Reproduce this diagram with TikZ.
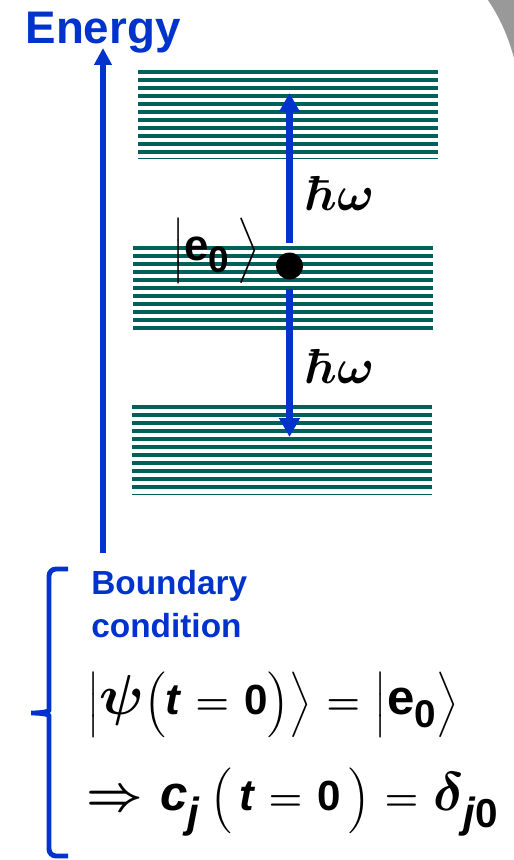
\documentclass[tikz,border=0pt]{standalone}
\usepackage{fix-cm}
\usepackage{amsmath}
\usepackage[no-math]{fontspec}
\setmainfont{Liberation Sans}
\usepackage{tikz}
\usetikzlibrary{arrows.meta, positioning}
\definecolor{myblue}{RGB}{0,51,204}
\definecolor{myteal}{RGB}{0,96,90}
\definecolor{mygray}{RGB}{153,153,153}
\newcommand{\sizedbf}[2]{\text{\fontsize{#1}{#1}\selectfont\bfseries #2}}
\newcommand{\sizedbi}[2]{\text{\fontsize{#1}{#1}\selectfont\bfseries\itshape #2}}
\newcommand{\sizedm}[2]{\text{\fontsize{#1}{#1}\selectfont$#2$}}
\thickmuskip=6mu plus 5mu
\tikzset{
  band/.style={draw=myteal, line width=2.3pt},
  thinband/.style={draw=myteal, line width=0.7pt},
  axisarrow/.style={-{Triangle[width=9.6pt,length=9.6pt]}, line width=3pt, color=myblue},
  photon/.style={-{Triangle[width=11.3pt,length=10.8pt]}, line width=4pt,
    color=myblue, shorten <=5.5pt},
  level/.style={circle, fill=black, minimum size=15.3pt, inner sep=0pt},
  energylabel/.style={text=myblue, font=\bfseries\fontsize{26}{31}\selectfont,
    inner sep=0pt, anchor=base},
  cond/.style={text=myblue, font=\bfseries\fontsize{19}{24}\selectfont,
    inner sep=0pt, anchor=base west, align=left},
  hw/.style={font=\boldmath\fontsize{28}{34}\selectfont, inner sep=0pt, anchor=west},
  formula/.style={font=\boldmath\fontsize{22}{26}\selectfont, inner sep=0pt, anchor=west},
  brace/.style={draw=myblue, line width=2.8pt, rounded corners=4pt}
}
\begin{document}
\begin{tikzpicture}[x=0.02cm, y=-0.02cm]
  \useasboundingbox (0,0) rectangle (514,860);
  \fill[mygray] (488,0) .. controls (500,18) and (508,36) .. (514,58) -- (514,0) -- cycle;
  \foreach \k in {0,...,10} {
    \draw[band] (138,72+8*\k) -- (438,72+8*\k);
    \draw[band] (133,248+8*\k) -- (433,248+8*\k);
    \draw[band] (132,407+8*\k) -- (432,407+8*\k);
  }
  \draw[thinband] (138,158.7) -- (438,158.7);
  \draw[thinband] (132,494.3) -- (432,494.3);
  \node[energylabel] (energy) at (103,43) {Energy};
  \coordinate (ebase) at (103,553);
  \coordinate (etip) at (103,48);
  \draw[axisarrow] (ebase) -- (etip);
  \node[level] (e0) at (289.5,266) {};
  \coordinate (uptip) at (289.5,93);
  \coordinate (dntip) at (289.5,437);
  \draw[photon] (e0) -- (uptip);
  \draw[photon] (e0) -- (dntip);
  \node[hw] (hwup) at (305,193) {$\hbar\omega$};
  \node[hw] (hwdn) at (305,366) {$\hbar\omega$};
  \node[formula] (ket) at (172,251)
    {$\Bigl|\sizedbf{25}{e}_{\sizedbf{21}{0}}\,\Bigr\rangle$};
  \node[cond] (cond) at (91,637) {Boundary\\condition};
  \node[formula] (eqa) at (87,705)
    {$\Bigl|\sizedm{32}{\psi}\Bigl(\sizedbi{25}{t}=\sizedbf{24}{0}\Bigr)\Bigr\rangle
      =\Bigl|\sizedbf{28}{e}_{\sizedbf{22}{0}}\Bigr\rangle$};
  \node[formula] (eqb) at (86,801)
    {$\sizedm{28}{\Rightarrow}\mkern7mu\sizedbi{28}{c}_{\sizedbi{24}{j}}\mkern4mu\Bigl(\,\sizedbi{25}{t}=\sizedbf{24}{0}\,\Bigr)
      =\sizedm{31}{\delta}_{\sizedbi{24}{j}\sizedbf{23}{0}}$};
  \draw[brace] (68,569) -- (49,569) -- (49,703) to[out=-90,in=0] (27,713)
    to[out=0,in=90] (49,723) -- (49,856) -- (68,856);
\end{tikzpicture}
\end{document}
